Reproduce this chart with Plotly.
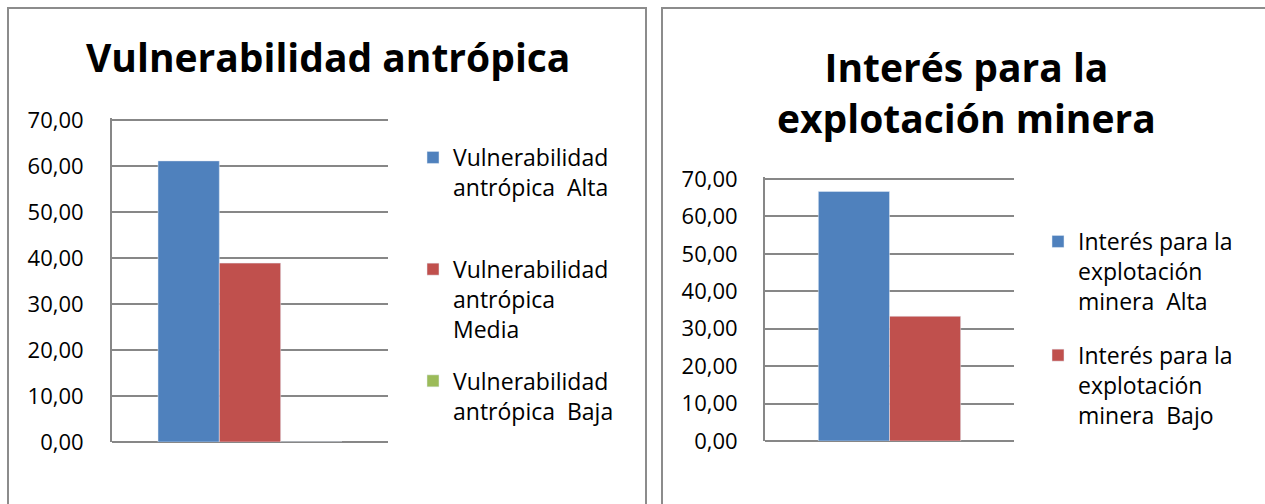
import plotly.graph_objects as go

W, H = 1265, 504

# Data
cat = [""]
left_series = ["Vulnerabilidad<br>antrópica \u00a0Alta<br> ",
               "Vulnerabilidad<br>antrópica<br>Media",
               "Vulnerabilidad<br>antrópica \u00a0Baja<br> "]
left_values = [61.11, 38.89, 0.0]
right_series = ["Interés para la<br>explotación<br>minera \u00a0Alta",
                "Interés para la<br>explotación<br>minera \u00a0Bajo"]
right_values = [66.67, 33.33]
colors = ["#4F81BD", "#C0504D", "#9BBB59"]
left_title = "Vulnerabilidad antrópica"
right_title = "Interés para la<br>explotación minera"
y_max = 70

FONT = "Open Sans"
GRID = "#878787"

def px_x(p):
    return p / W

def px_y(p):
    return 1 - p / H

# small headroom above the top gridline so that it is drawn
HEAD = 0.5
left_top = 120 - (442 - 120) / y_max * HEAD
right_top = 179 - (441 - 179) / y_max * HEAD

fig = go.Figure()
for i, (name, v) in enumerate(zip(left_series, left_values)):
    fig.add_trace(go.Bar(x=cat, y=[v], name=name, marker_color=colors[i],
                         xaxis="x", yaxis="y", legend="legend",
                         legendgroup=f"l{i}"))
for i, (name, v) in enumerate(zip(right_series, right_values)):
    fig.add_trace(go.Bar(x=cat, y=[v], name=name, marker_color=colors[i],
                         xaxis="x2", yaxis="y2", legend="legend2",
                         legendgroup=f"r{i}"))

def yax(standoff):
    return dict(range=[0, y_max + HEAD], dtick=10, tick0=0, tickformat=".2f",
                showgrid=True, gridcolor=GRID, gridwidth=2, showline=True,
                linecolor=GRID, linewidth=2, zeroline=True,
                zerolinecolor=GRID, zerolinewidth=2, ticks="",
                ticklabelstandoff=standoff,
                tickfont=dict(family=FONT, size=22, color="#000000"),
                fixedrange=True)

xax = dict(showticklabels=False, showgrid=False, showline=False,
           zeroline=False, ticks="", fixedrange=True)

fig.update_layout(
    width=W, height=H,
    margin=dict(l=0, r=0, t=0, b=0, autoexpand=False),
    paper_bgcolor="white", plot_bgcolor="white",
    separators=",.",
    barmode="group",
    bargap=1/3, bargroupgap=0,
    xaxis=dict(domain=[px_x(112), px_x(388)], anchor="y",
               range=[-0.5, 0.5], **xax),
    yaxis=dict(domain=[px_y(442), px_y(left_top)], anchor="x", **yax(22)),
    xaxis2=dict(domain=[px_x(765), px_x(1014)], anchor="y2",
                range=[-0.5833, 0.5833], **xax),
    yaxis2=dict(domain=[px_y(441), px_y(right_top)], anchor="x2", **yax(21)),
    legend=dict(x=px_x(413), y=px_y(136), xanchor="left", yanchor="top",
                font=dict(family=FONT, size=23, color="#000000"),
                valign="top", tracegroupgap=19, bgcolor="rgba(0,0,0,0)"),
    legend2=dict(x=px_x(1038), y=px_y(220), xanchor="left", yanchor="top",
                 font=dict(family=FONT, size=23, color="#000000"),
                 valign="top", tracegroupgap=21, bgcolor="rgba(0,0,0,0)"),
    showlegend=True,
)

fig.add_annotation(text=left_title, x=px_x(328), y=px_y(56), xref="paper",
                   yref="paper", xanchor="center", yanchor="middle",
                   showarrow=False,
                   font=dict(family=FONT, size=39, color="#000000", weight="bold"))
fig.add_annotation(text=right_title, x=px_x(966), y=px_y(92), xref="paper",
                   yref="paper", xanchor="center", yanchor="middle",
                   showarrow=False,
                   font=dict(family=FONT, size=39, color="#000000", weight="bold"))

# panel borders
fig.add_shape(type="rect", xref="paper", yref="paper",
              x0=px_x(8), x1=px_x(646), y0=px_y(520), y1=px_y(8),
              line=dict(color="#8C8C8C", width=2), layer="below")
fig.add_shape(type="rect", xref="paper", yref="paper",
              x0=px_x(662), x1=px_x(1280), y0=px_y(520), y1=px_y(8),
              line=dict(color="#8C8C8C", width=2), layer="below")

fig.write_html("out.html", config={"displayModeBar": False},
               post_script="document.body.style.margin='0px';")
